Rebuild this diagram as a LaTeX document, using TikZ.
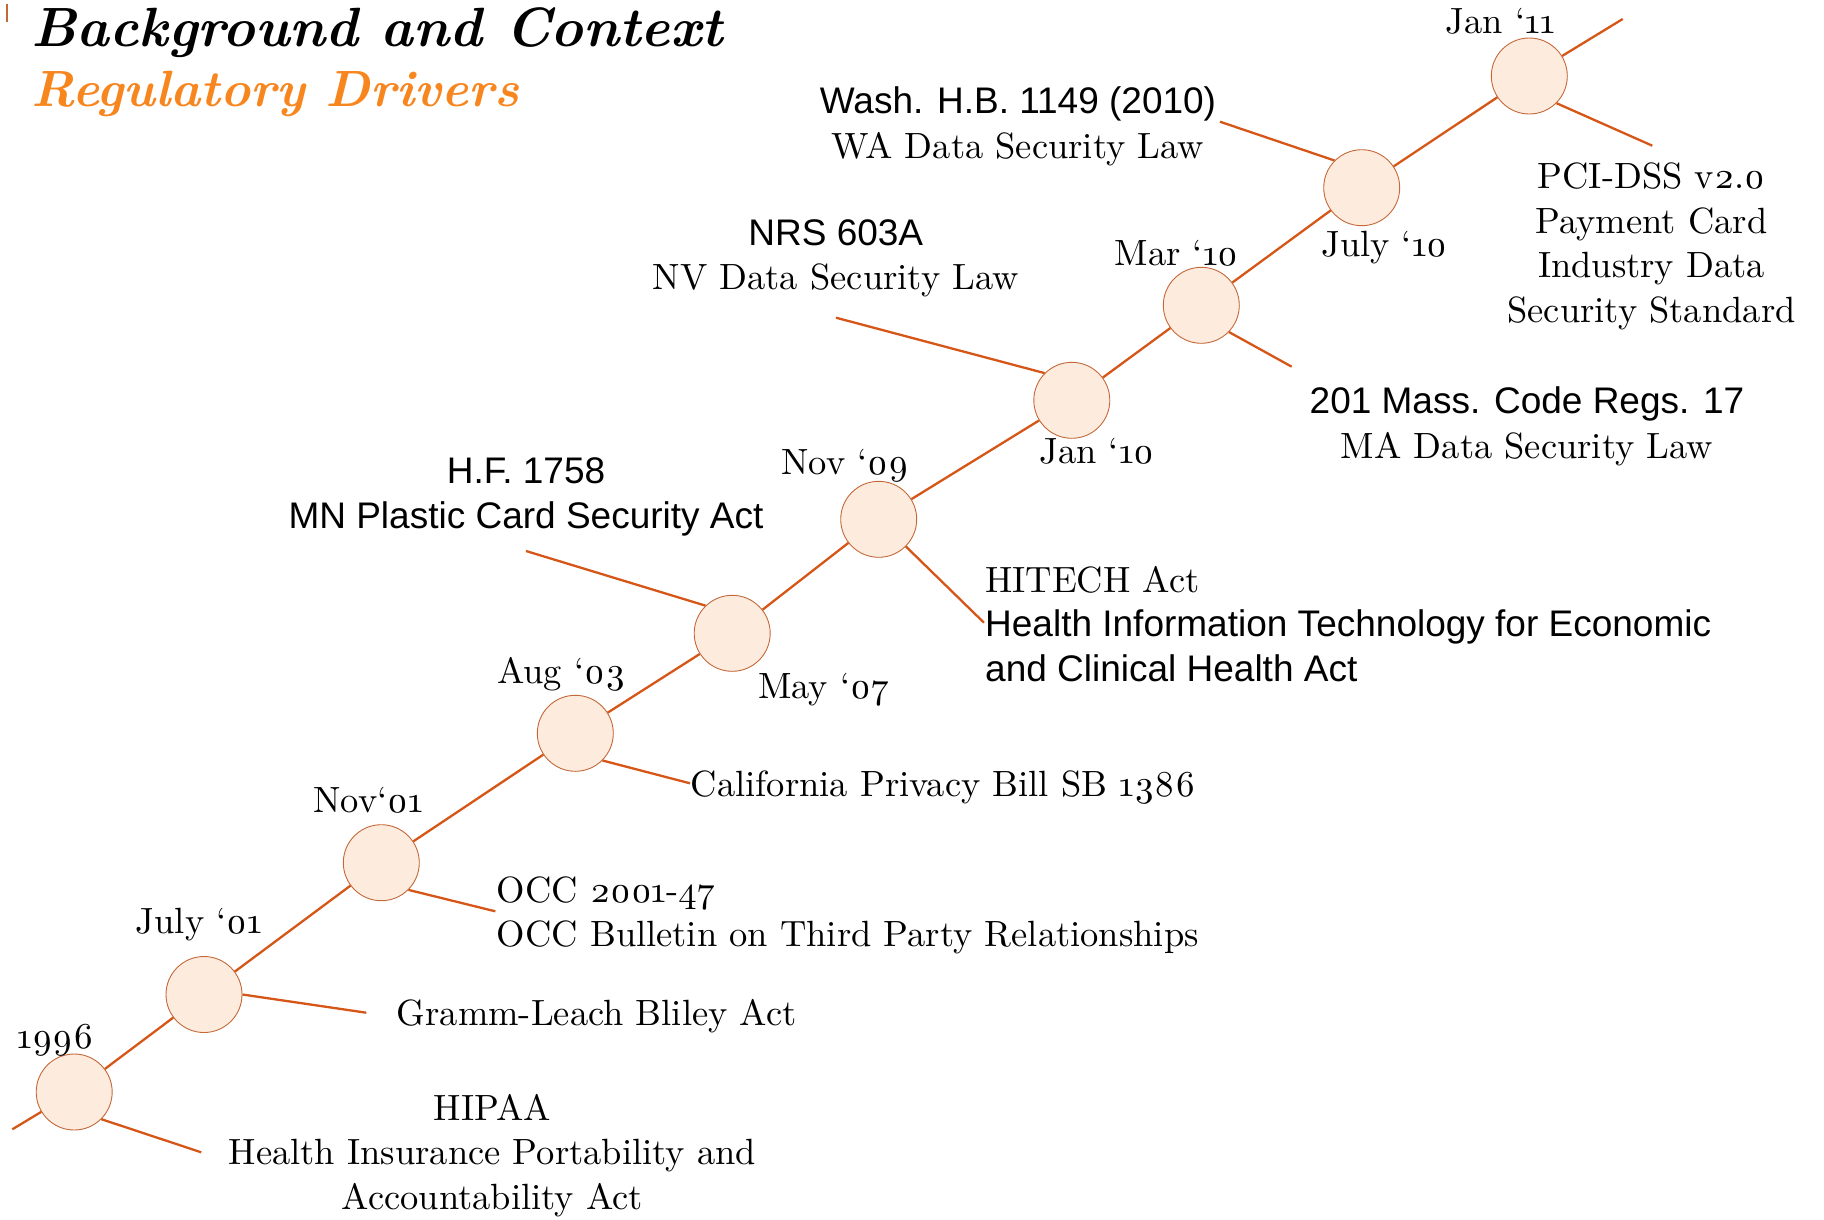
\documentclass[tikz,border=0pt]{standalone}
\usepackage{fontspec}
\setmainfont{lmroman10-regular}[
  Extension=.otf,
  BoldFont=lmroman10-bold,
  ItalicFont=lmroman10-italic,
  BoldItalicFont=lmroman10-bolditalic,
  Numbers=OldStyle]
\newfontfamily\sansA{Liberation Sans}

\definecolor{lineor}{RGB}{213,86,22}
\definecolor{peach}{RGB}{253,236,221}
\definecolor{rim}{RGB}{196,104,58}
\definecolor{titleor}{RGB}{247,134,31}

% multi-line blocks are placed by the baseline of their last line
\tikzset{
  event/.style={circle, minimum size=76pt, inner sep=0pt, fill=peach, draw=rim, line width=0.9pt},
  tl/.style={draw=lineor, line width=2.3pt},
  txt/.style={inner sep=0pt, font=\fontsize{36.5}{44.5}\selectfont},
  sanstxt/.style={inner sep=0pt, font=\sansA\fontsize{37}{44.5}\selectfont},
  datelbl/.style={txt, anchor=base},
  headline/.style={inner sep=0pt, anchor=base west, font=\bfseries\itshape\fontsize{55.3}{60}\selectfont}
}
\newcommand{\sanstext}[1]{{\sansA\fontsize{37}{44.5}\selectfont #1}}

\begin{document}
\begin{tikzpicture}[x=1pt, y=-1pt]
\useasboundingbox (0,0) rectangle (1824,1219);

% heading
\draw[rim, line width=1.2pt] (7,4) -- (7,22);
\node[headline] (title) at (31.5,46.7) {Background and Context};
\node[headline, text=titleor, font=\bfseries\itshape\fontsize{51}{56}\selectfont] (subtitle) at (31.5,106) {Regulatory Drivers};

% milestones along the timeline
\node[event] (c96)  at (74.2,1092)   {};
\node[event] (c01a) at (204,994.5)   {};
\node[event] (c01b) at (381.3,862.7) {};
\node[event] (c03)  at (575.3,733.3) {};
\node[event] (c07)  at (732.2,633.3) {};
\node[event] (c09)  at (878.7,519.3) {};
\node[event] (c10a) at (1071.8,400.3){};
\node[event] (c10b) at (1201.3,305.3){};
\node[event] (c10c) at (1361.7,187.7){};
\node[event] (c11)  at (1529.3,76)   {};

% free ends of the connectors
\coordinate (start) at (12.3,1129.3);
\coordinate (finish) at (1622.7,19);
\coordinate (e96)  at (201.3,1152.3);
\coordinate (e01a) at (366.3,1012.7);
\coordinate (e01b) at (495.3,911.3);
\coordinate (e03)  at (690,783.3);
\coordinate (e07)  at (526,551);
\coordinate (e09)  at (984,622.7);
\coordinate (e10a) at (836,317.7);
\coordinate (e10b) at (1291.7,366.7);
\coordinate (e10c) at (1220,121.7);
\coordinate (e11)  at (1652.3,145.7);

% timeline
\draw[tl] (start) -- (c96);
\draw[tl] (c96) -- (c01a);
\draw[tl] (c01a) -- (c01b);
\draw[tl] (c01b) -- (c03);
\draw[tl] (c03) -- (c07);
\draw[tl] (c07) -- (c09);
\draw[tl] (c09) -- (c10a);
\draw[tl] (c10a) -- (c10b);
\draw[tl] (c10b) -- (c10c);
\draw[tl] (c10c) -- (c11);
\draw[tl] (c11) -- (finish);

% leader lines to the regulations
\draw[tl] (c96.-45) -- (e96);
\draw[tl] (c01a.0) -- (e01a);
\draw[tl] (c01b.-45) -- (e01b);
\draw[tl] (c03.-45) -- (e03);
\draw[tl] (c07.134) -- (e07);
\draw[tl] (c09.-45) -- (e09);
\draw[tl] (c10a.135) -- (e10a);
\draw[tl] (c10b.-44) -- (e10b);
\draw[tl] (c10c.135) -- (e10c);
\draw[tl] (c11.-45) -- (e11);

% dates
\node[datelbl] (d96)  at (55.7,1048)   {1996};
\node[datelbl] (d01a) at (199,933.3)   {July ‘01};
\node[datelbl] (d01b) at (368.3,812.3) {Nov‘01};
\node[datelbl] (d03)  at (561.5,683)   {Aug ‘03};
\node[datelbl] (d07)  at (823.8,698.3) {May ‘07};
\node[datelbl] (d09)  at (845.3,474.3) {Nov ‘09};
\node[datelbl] (d10a) at (1097,463.5)  {Jan ‘10};
\node[datelbl] (d10b) at (1176.7,265)  {Mar ‘10};
\node[datelbl] (d10c) at (1384.5,256.7){July ‘10};
\node[datelbl] (d11)  at (1500.5,33.3) {Jan ‘11};

% regulations
\node[txt, anchor=base, align=center] (hipaa) at (492.3,1209.4)
  {HIPAA\\Health Insurance Portability and\\Accountability Act};
\node[txt, anchor=base west] (glba) at (396.7,1025) {Gramm-Leach Bliley Act};
\node[txt, anchor=base west, align=left] (occ) at (496.7,946.6)
  {OCC 2001-47\\OCC Bulletin on Third Party Relationships};
\node[txt, anchor=base west] (ca) at (690.7,796) {California Privacy Bill SB 1386};
\node[sanstxt, anchor=base, align=center] (mn) at (526,528.2)
  {H.F. 1758\\MN Plastic Card Security Act};
\node[txt, anchor=base west, align=left] (hitech) at (985,681.1)
  {HITECH Act\\\sanstext{Health Information Technology for Economic}\\\sanstext{and Clinical Health Act}};
\node[txt, anchor=base, align=center] (nv) at (835.8,289.9)
  {\sanstext{NRS 603A}\\NV Data Security Law};
\node[txt, anchor=base, align=center] (wa) at (1018,158.2)
  {\sanstext{Wash. H.B. 1149 (2010)}\\WA Data Security Law};
\node[txt, anchor=base, align=center] (ma) at (1527,458.2)
  {\sanstext{201 Mass. Code Regs. 17}\\MA Data Security Law};
\node[txt, anchor=base, align=center] (pci) at (1651.5,322.2)
  {PCI-DSS v2.0\\Payment Card\\Industry Data\\Security Standard};
\end{tikzpicture}
\end{document}
